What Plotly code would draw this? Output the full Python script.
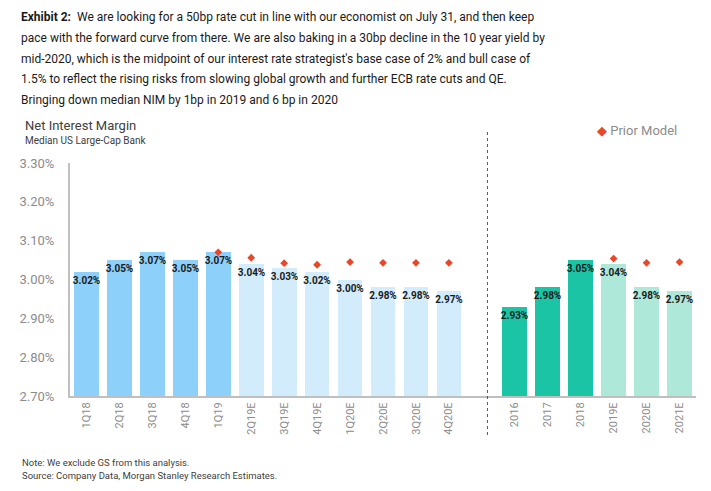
import plotly.graph_objects as go

# ---- data ----
quarter_labels = ["1Q18", "2Q18", "3Q18", "4Q18", "1Q19", "2Q19E", "3Q19E", "4Q19E",
                  "1Q20E", "2Q20E", "3Q20E", "4Q20E"]
quarter_values = [3.02, 3.05, 3.07, 3.05, 3.07, 3.04, 3.03, 3.02, 3.00, 2.98, 2.98, 2.97]
quarter_is_estimate = [False] * 5 + [True] * 7
quarter_prior = [None, None, None, None, 3.070, 3.056, 3.042, 3.038, 3.045, 3.043, 3.043, 3.043]

year_labels = ["2016", "2017", "2018", "2019E", "2020E", "2021E"]
year_values = [2.93, 2.98, 3.05, 3.04, 2.98, 2.97]
year_is_estimate = [False, False, False, True, True, True]
year_prior = [None, None, None, 3.054, 3.043, 3.045]

y_ticks = [2.70, 2.80, 2.90, 3.00, 3.10, 3.20, 3.30]

# ---- styling ----
C_Q = "#8DD0FA"
C_QE = "#D3ECFC"
C_Y = "#1CC4A6"
C_YE = "#AEE8D9"
C_PRIOR = "#E8482A"
GRAY = "#8C8C8C"
FONT = "Roboto, Arial, sans-serif"

# page body has an 8px default margin; lay out in window pixels and compensate
OFF = 8
W, H = 711 - OFF, 491 - OFF
L, R, T, B = 63 - OFF, 15, 163 - OFF, 95
PW, PH = W - L - R, H - T - B


def px_x(x):
    return (x - OFF - L) / PW


def px_y(y):
    return (H - B - (y - OFF)) / PH


gap = 1
q_x = list(range(len(quarter_labels)))
y_x = [len(quarter_labels) + gap + i for i in range(len(year_labels))]

fig = go.Figure()

label_font = dict(family=FONT, size=10, color="#1a1a1a", weight="bold")
fig.add_trace(go.Bar(
    x=q_x, y=quarter_values,
    marker=dict(color=[C_QE if e else C_Q for e in quarter_is_estimate], line=dict(width=0)),
    width=0.75,
    text=[f"{v:.2f}%" for v in quarter_values],
    textposition="inside", insidetextanchor="end", constraintext="none", textangle=0,
    textfont=label_font,
    showlegend=False, hoverinfo="skip",
))
fig.add_trace(go.Bar(
    x=y_x, y=year_values,
    marker=dict(color=[C_YE if e else C_Y for e in year_is_estimate], line=dict(width=0)),
    width=0.75,
    text=[f"{v:.2f}%" for v in year_values],
    textposition="inside", insidetextanchor="end", constraintext="none", textangle=0,
    textfont=label_font,
    showlegend=False, hoverinfo="skip",
))
fig.add_trace(go.Scatter(
    x=q_x + y_x, y=quarter_prior + year_prior,
    mode="markers", name="Prior Model",
    marker=dict(symbol="diamond", size=6, color=C_PRIOR),
    showlegend=False, cliponaxis=False, hoverinfo="skip",
))

fig.add_shape(type="line", xref="x", yref="paper",
              x0=12.17, x1=12.17, y0=px_y(435), y1=px_y(129),
              line=dict(color="#555555", width=1, dash="dot"))

tick_vals = q_x + y_x
tick_text = quarter_labels + year_labels

fig.update_layout(
    width=W, height=H,
    margin=dict(l=L, r=R, t=T, b=B),
    paper_bgcolor="white", plot_bgcolor="white",
    barmode="overlay", bargap=0,
    font=dict(family=FONT, color=GRAY),
    showlegend=False,
    xaxis=dict(range=[-0.5, 18.5], tickvals=tick_vals, ticktext=tick_text,
               tickangle=-90, showgrid=False, zeroline=False,
               showline=True, linecolor="#BFBFBF", linewidth=2, ticks="",
               tickfont=dict(family=FONT, size=11, color=GRAY)),
    yaxis=dict(range=[2.70, 3.30], tickvals=y_ticks,
               ticktext=[f"{v:.2f}%" for v in y_ticks],
               showgrid=False, zeroline=False,
               showline=True, linecolor="#BFBFBF", linewidth=2, ticks="",
               ticklabelstandoff=11,
               tickfont=dict(family=FONT, size=13, color=GRAY)),
)

title_lines = [
    "<b>Exhibit 2:</b>  We are looking for a 50bp rate cut in line with our economist on July 31, and then keep",
    "pace with the forward curve from there. We are also baking in a 30bp decline in the 10 year yield by",
    "mid-2020, which is the midpoint of our interest rate strategist's base case of 2% and bull case of",
    "1.5% to reflect the rising risks from slowing global growth and further ECB rate cuts and QE.",
    "Bringing down median NIM by 1bp in 2019 and 6 bp in 2020",
]
for i, line in enumerate(title_lines):
    fig.add_annotation(text=line, xref="paper", yref="paper",
                       x=px_x(11), y=px_y(17 + i * 20.8), xanchor="left", yanchor="middle",
                       align="left", showarrow=False,
                       font=dict(family=FONT, size=12, color="#1a1a1a"))

fig.add_annotation(text="Net Interest Margin", xref="paper", yref="paper",
                   x=px_x(15), y=px_y(126), xanchor="left", yanchor="middle",
                   showarrow=False, font=dict(family=FONT, size=13, color="#404040"))
fig.add_annotation(text="Median US Large-Cap Bank", xref="paper", yref="paper",
                   x=px_x(15), y=px_y(140), xanchor="left", yanchor="middle",
                   showarrow=False, font=dict(family=FONT, size=10, color="#404040"))

fig.add_annotation(text=f"<span style='color:{C_PRIOR}'>◆</span> Prior Model",
                   xref="paper", yref="paper",
                   x=px_x(594), y=px_y(130), xanchor="left", yanchor="middle",
                   showarrow=False, font=dict(family=FONT, size=13, color=GRAY))

fig.add_annotation(text="Note: We exclude GS from this analysis.", xref="paper", yref="paper",
                   x=px_x(12), y=px_y(462), xanchor="left", yanchor="middle",
                   showarrow=False, font=dict(family=FONT, size=9.5, color="#404040"))
fig.add_annotation(text="Source: Company Data, Morgan Stanley Research Estimates.", xref="paper", yref="paper",
                   x=px_x(12), y=px_y(475), xanchor="left", yanchor="middle",
                   showarrow=False, font=dict(family=FONT, size=9.5, color="#404040"))

fig.write_html("out.html")
